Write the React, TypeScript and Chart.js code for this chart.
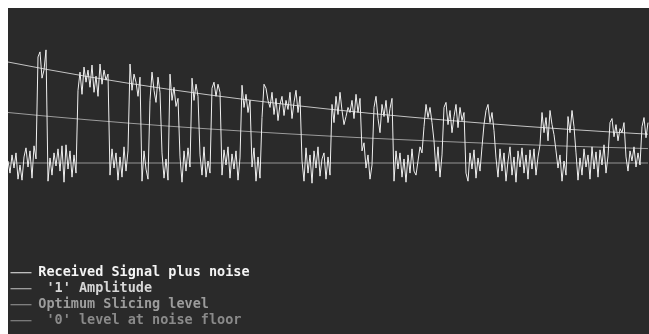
import { useEffect, useRef } from "react";
import { Chart, registerables } from "chart.js";

Chart.register(...registerables);

// Received waveform, one value per sample (normalised so the first '1' level is 1.0)
const received: number[] = [
  0.02, -0.10, 0.08, -0.05, 0.10, -0.16, -0.02, -0.17, 0.06, 0.15, -0.04, 0.12, -0.15, 0.17, 0.04,
  1.05, 1.10, 0.84, 0.92, 1.12,
  -0.18, 0.05, -0.12, 0.10, -0.03, 0.14, -0.08, 0.17, -0.19, 0.18, -0.06, 0.12, -0.14, 0.08, -0.10,
  0.72, 0.90, 0.68, 0.95, 0.80, 0.92, 0.75, 0.97, 0.70, 0.86, 0.66, 0.98, 0.78, 0.92, 0.82, 0.88,
  -0.12, 0.14, -0.05, 0.10, -0.17, 0.06, -0.14, 0.16, -0.08, 0.12,
  0.98, 0.72, 0.88, 0.80, 0.66, 0.85,
  -0.18, 0.12, -0.06, -0.16,
  0.62, 0.90, 0.72, 0.60, 0.85, 0.70,
  0.10, -0.15, 0.04, -0.17,
  0.88, 0.62, 0.75, 0.56, 0.64,
  0.06, -0.19, 0.12, -0.08, 0.15, -0.04,
  0.84, 0.62, 0.78, 0.66,
  0.08, -0.12, 0.16, -0.14, 0.02, -0.10,
  0.74, 0.80, 0.66, 0.78, 0.70,
  -0.12, 0.13, -0.02, 0.16, -0.15, 0.09, -0.06, 0.12, -0.17, 0.05,
  0.77, 0.55, 0.68, 0.50, 0.62,
  -0.04, 0.15, -0.18, 0.06, -0.15,
  0.45, 0.78, 0.74, 0.62, 0.55, 0.70, 0.48, 0.64, 0.42, 0.58, 0.66, 0.47, 0.62, 0.53, 0.70, 0.44, 0.60, 0.72, 0.50, 0.66,
  0.02, -0.18, 0.15, -0.10, 0.08, -0.20, 0.12, -0.05, 0.16, -0.13, 0.04, 0.10, -0.16, 0.06, -0.12,
  0.58, 0.40, 0.66, 0.48, 0.70, 0.52, 0.38, 0.46, 0.55, 0.50, 0.62, 0.44, 0.68, 0.50, 0.64,
  0.12, 0.20, -0.05, 0.08, -0.16, -0.02,
  0.55, 0.66, 0.44, 0.30, 0.58, 0.46, 0.62, 0.40, 0.54, 0.64,
  -0.18, 0.12, -0.06, 0.10, -0.14, 0.04, -0.19, 0.08, -0.10, 0.14, -0.08, -0.12, 0.02, 0.16, 0.10,
  0.36, 0.58, 0.45, 0.55, 0.40,
  0.22, -0.08, 0.16, -0.14, 0.08,
  0.55, 0.60, 0.38, 0.52, 0.30, 0.46, 0.58, 0.35, 0.55, 0.42, 0.50,
  -0.10, -0.18, 0.10, -0.06, 0.13, -0.15, 0.05, -0.08, 0.16,
  0.38, 0.52, 0.58, 0.40, 0.50, 0.32,
  0.05, -0.14, 0.14, -0.08, 0.10, -0.18, 0.02, 0.16, -0.12, 0.06, -0.19, 0.12, -0.04, 0.15, -0.10, 0.08, -0.16, 0.13, -0.06, 0.14, -0.12, 0.06, 0.18,
  0.50, 0.30, 0.45, 0.22, 0.52, 0.38, 0.28,
  0.12, -0.05, 0.08, -0.18, 0.02, -0.12,
  0.46, 0.30, 0.52, 0.36,
  0.10, -0.17, 0.05, -0.12, 0.14, -0.04, 0.08, -0.16, 0.16, -0.06, 0.11, -0.14, 0.13, -0.02, 0.18, -0.10, 0.07,
  0.40, 0.44, 0.26, 0.38, 0.22, 0.34, 0.30, 0.40,
  0.06, -0.08, 0.12, 0.02, 0.16, -0.04, 0.10, -0.02,
  0.36, 0.45, 0.25, 0.40,
];

// Sample positions where the reference levels are tabulated
const levelSamples: number[] = [0, 20, 40, 60, 80, 100, 120, 140, 160, 180, 200, 220, 240, 260, 280, 300, 320];

// Decaying '1' amplitude
const oneLevel: number[] = [
  1.0, 0.9246, 0.8549, 0.7904, 0.7308, 0.6757, 0.6248, 0.5777, 0.5341,
  0.4938, 0.4566, 0.4222, 0.3903, 0.3609, 0.3337, 0.3085, 0.2853,
];

// Decision threshold half way between the '1' and '0' levels
const slicingLevel: number[] = [
  0.5, 0.4623, 0.4275, 0.3952, 0.3654, 0.3379, 0.3124, 0.2889, 0.2671,
  0.2469, 0.2283, 0.2111, 0.1952, 0.1805, 0.1669, 0.1543, 0.1427,
];

// Noise floor
const zeroLevel: number[] = [0, 0, 0, 0, 0, 0, 0, 0, 0, 0, 0, 0, 0, 0, 0, 0, 0];

const seriesLabels: string[] = [
  "Received Signal plus noise",
  " '1' Amplitude",
  "Optimum Slicing level",
  " '0' level at noise floor",
];

const lineColors: string[] = ["#f0f0f0", "#c4c4c4", "#9c9c9c", "#949494"];
const legendTextColors: string[] = ["#f4f4f4", "#d6d6d6", "#9c9c9c", "#8a8a8a"];

export default function App() {
  const canvasRef = useRef<HTMLCanvasElement | null>(null);

  useEffect(() => {
    const canvas = canvasRef.current;
    if (!canvas) return;

    const level = (vals: number[]) => vals.map((v, k) => ({ x: levelSamples[k], y: v }));

    const chart = new Chart(canvas, {
      type: "line",
      data: {
        datasets: [
          { label: seriesLabels[0], data: received.map((v, i) => ({ x: i, y: v })) },
          { label: seriesLabels[1], data: level(oneLevel) },
          { label: seriesLabels[2], data: level(slicingLevel) },
          { label: seriesLabels[3], data: level(zeroLevel) },
        ].map((ds, i) => ({
          ...ds,
          borderColor: lineColors[i],
          borderWidth: 1,
          pointRadius: 0,
          tension: 0,
          fill: false,
        })),
      },
      options: {
        animation: false,
        responsive: false,
        events: [],
        layout: { padding: { left: 0, right: 0, top: 0, bottom: 4 } },
        scales: {
          x: { type: "linear", min: 0, max: 320.5, display: false },
          y: { type: "linear", min: -1.6535, max: 1.5347, display: false },
        },
        plugins: {
          tooltip: { enabled: false },
          legend: {
            position: "chartArea",
            align: "end",
            labels: {
              usePointStyle: true,
              pointStyleWidth: 21,
              boxHeight: 13.5,
              padding: 2.5,
              font: { family: "'DejaVu Sans Mono', monospace", size: 13.5, weight: "bold" },
              generateLabels: (c: Chart) =>
                c.data.datasets.map((ds: any, i: number) => ({
                  text: ds.label,
                  datasetIndex: i,
                  hidden: false,
                  fillStyle: "transparent",
                  strokeStyle: lineColors[i],
                  lineWidth: 1,
                  lineCap: "butt",
                  lineDash: [],
                  lineDashOffset: 0,
                  lineJoin: "miter",
                  pointStyle: "line",
                  rotation: 0,
                  fontColor: legendTextColors[i],
                })),
            },
          },
        },
      } as any,
    });

    return () => chart.destroy();
  }, []);

  return (
    <div
      style={{
        position: "fixed",
        left: 8,
        top: 8,
        width: 641,
        height: 326,
        background: "#2a2a2a",
        lineHeight: 0,
      }}
    >
      <canvas ref={canvasRef} width={641} height={326} style={{ display: "block" }} />
    </div>
  );
}
